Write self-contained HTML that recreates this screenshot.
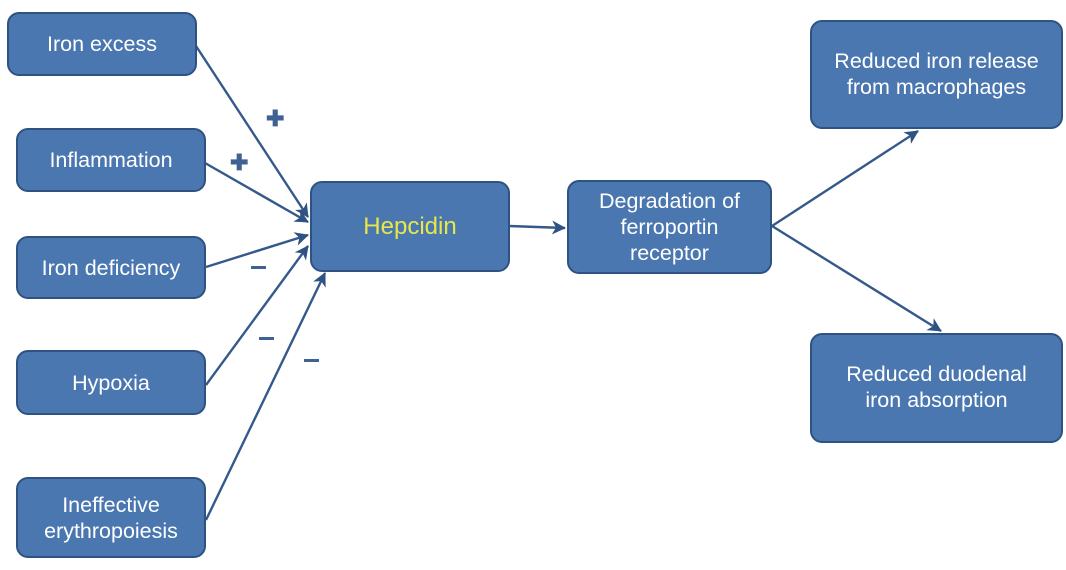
<!DOCTYPE html>
<html><head><meta charset="utf-8"><style>
html,body{margin:0;padding:0;background:#fff;}
body{width:1066px;height:570px;position:relative;overflow:hidden;font-family:"Liberation Sans",Arial,sans-serif;}
.box{position:absolute;box-sizing:border-box;background:#4a77b0;border:2px solid #2e5282;border-radius:12px;color:#fff;font-size:21.5px;line-height:26px;display:flex;align-items:center;justify-content:center;text-align:center;}
svg{position:absolute;left:0;top:0;}
.sign{position:absolute;color:#3f6293;font-weight:bold;font-size:22px;}
.minus{position:absolute;background:#3f6293;width:15px;height:3px;}
</style></head><body>
<svg width="1066" height="570">
<defs><marker id="ah" viewBox="0 0 14 14" refX="13" refY="7" markerWidth="14" markerHeight="14" markerUnits="userSpaceOnUse" orient="auto"><path d="M0,0 L14,7 L0,14 L4,7 z" fill="#2e5282"/></marker></defs>
<g stroke="#34598a" stroke-width="2.4" fill="none" marker-end="url(#ah)">
<line x1="196" y1="46" x2="308" y2="217"/>
<line x1="205" y1="163" x2="308" y2="222"/>
<line x1="206" y1="267" x2="308" y2="235"/>
<line x1="206" y1="385" x2="308" y2="246"/>
<line x1="206" y1="520" x2="325" y2="273"/>
<line x1="509" y1="226" x2="565" y2="228"/>
<line x1="772" y1="226" x2="918" y2="131"/>
<line x1="772" y1="226" x2="941" y2="331"/>
</g></svg>
<div class="box" style="left:7px;top:12px;width:190px;height:64px;">Iron excess</div>
<div class="box" style="left:16px;top:128px;width:190px;height:64px;">Inflammation</div>
<div class="box" style="left:16px;top:236px;width:190px;height:63px;">Iron deficiency</div>
<div class="box" style="left:16px;top:350px;width:190px;height:65px;">Hypoxia</div>
<div class="box" style="left:16px;top:477px;width:190px;height:81px;">Ineffective<br>erythropoiesis</div>
<div class="box" style="left:310px;top:181px;width:200px;height:91px;color:#e6e84a;font-size:24px;">Hepcidin</div>
<div class="box" style="left:567px;top:180px;width:205px;height:94px;line-height:26px;">Degradation of<br>ferroportin<br>receptor</div>
<div class="box" style="left:810px;top:20px;width:253px;height:109px;align-items:flex-start;padding-top:26px;">Reduced iron release<br>from macrophages</div>
<div class="box" style="left:810px;top:333px;width:253px;height:110px;align-items:flex-start;padding-top:26px;">Reduced duodenal<br>iron absorption</div>
<div class="sign" style="left:266px;top:106px;">✚</div>
<div class="sign" style="left:230px;top:150px;">✚</div>
<div class="minus" style="left:251px;top:266px;"></div>
<div class="minus" style="left:259px;top:337px;"></div>
<div class="minus" style="left:304px;top:359px;"></div>
</body></html>
